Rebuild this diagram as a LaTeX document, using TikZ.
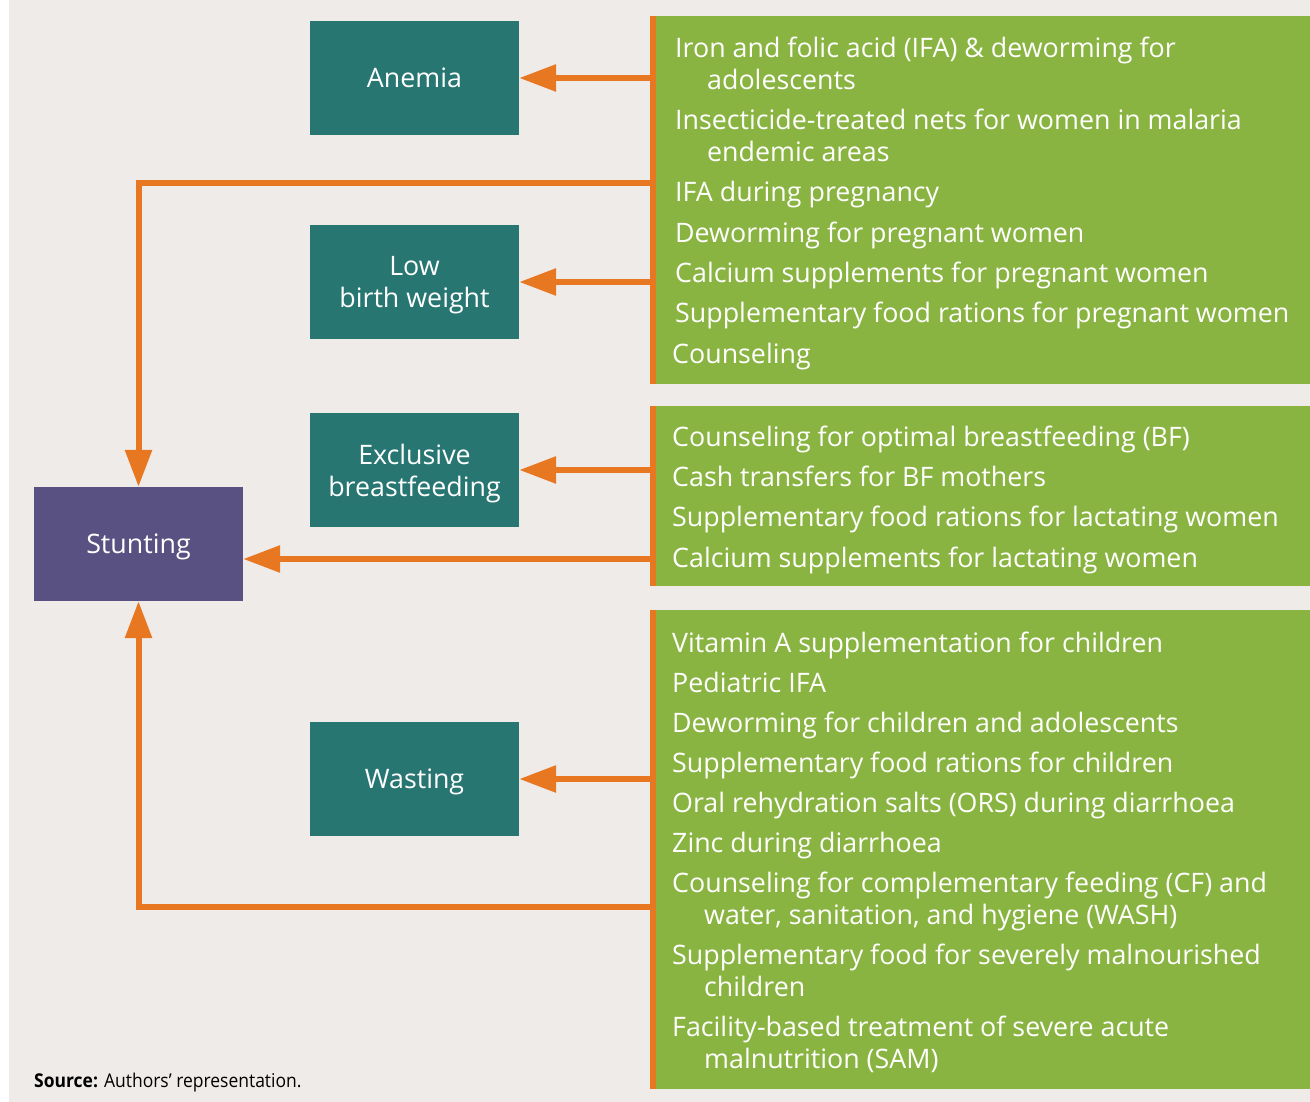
\documentclass[tikz,border=0pt]{standalone}
\usepackage{fontspec}
\setmainfont{Open Sans}
\newfontfamily\srcfont[FakeStretch=0.92]{Open Sans}
\usetikzlibrary{arrows.meta}
\definecolor{bgc}{HTML}{EFEBE8}
\definecolor{grn}{HTML}{8AB441}
\definecolor{tealc}{HTML}{287672}
\definecolor{purp}{HTML}{585182}
\definecolor{orng}{HTML}{E87722}
\begin{document}
\begin{tikzpicture}[x=1pt,y=-1pt,
  every node/.style={font=\fontsize{26.8}{32}\selectfont},
  outbox/.style={fill=tealc, text=white, minimum width=209pt, minimum height=114pt, inner sep=0pt, align=center, text depth=0pt},
  stuntbox/.style={fill=purp, text=white, minimum width=209pt, minimum height=114pt, inner sep=0pt, text depth=0pt},
  greenbox/.style={fill=grn, anchor=north west, inner sep=0pt,
     path picture={\fill[orng] (path picture bounding box.north west) rectangle ([xshift=6pt]path picture bounding box.south west);}},
  itemtext/.style={anchor=base west, text=white, inner sep=0pt},
  arr/.style={draw=orng, line width=6pt, -{Triangle[length=37pt,width=26pt]}},
  conn/.style={draw=orng, line width=6pt}
]
\useasboundingbox (0,0) rectangle (1310,1102);
\fill[white] (0,0) rectangle (1310,1102);
\fill[bgc] (9,0) rectangle (1310,1102);

% green boxes
\node[greenbox, minimum width=660pt, minimum height=368pt] (g1) at (650,16) {};
\node[greenbox, minimum width=660pt, minimum height=180pt] (g2) at (650,406) {};
\node[greenbox, minimum width=660pt, minimum height=479pt] (g3) at (650,610) {};

% outcome boxes
\node[outbox] (anemia) at (414.5,78) {Anemia};
\node[outbox] (lbw) at (414.5,282) {Low\\birth weight};
\node[outbox] (ebf) at (414.5,470) {Exclusive\\breastfeeding};
\node[outbox] (wasting) at (414.5,779) {Wasting};
\node[stuntbox] (stunting) at (138.5,544) {Stunting};

% box 1 items
\node[itemtext] (t1) at (675,58) {Iron and folic acid (IFA) \& deworming for};
\node[itemtext] (t1b) at (707,90) {adolescents};
\node[itemtext] (t2) at (675,130) {Insecticide-treated nets for women in malaria};
\node[itemtext] (t2b) at (707,162) {endemic areas};
\node[itemtext] (t3) at (675,202) {IFA during pregnancy};
\node[itemtext] (t4) at (675,243) {Deworming for pregnant women};
\node[itemtext] (t5) at (675,283) {Calcium supplements for pregnant women};
\node[itemtext] (t6) at (675,323) {Supplementary food rations for pregnant women};
\node[itemtext] (t7) at (672,363) {Counseling};

% box 2 items
\node[itemtext] (u1) at (672,446) {Counseling for optimal breastfeeding (BF)};
\node[itemtext] (u2) at (672,486) {Cash transfers for BF mothers};
\node[itemtext] (u3) at (672,526) {Supplementary food rations for lactating women};
\node[itemtext] (u4) at (672,567) {Calcium supplements for lactating women};

% box 3 items
\node[itemtext] (v1) at (672,652) {Vitamin A supplementation for children};
\node[itemtext] (v2) at (672,692) {Pediatric IFA};
\node[itemtext] (v3) at (672,732) {Deworming for children and adolescents};
\node[itemtext] (v4) at (672,772) {Supplementary food rations for children};
\node[itemtext] (v5) at (672,812) {Oral rehydration salts (ORS) during diarrhoea};
\node[itemtext] (v6) at (672,852) {Zinc during diarrhoea};
\node[itemtext] (v7) at (672,892) {Counseling for complementary feeding (CF) and};
\node[itemtext] (v7b) at (704,924) {water, sanitation, and hygiene (WASH)};
\node[itemtext] (v8) at (672,964) {Supplementary food for severely malnourished};
\node[itemtext] (v8b) at (704,996) {children};
\node[itemtext] (v9) at (672,1036) {Facility-based treatment of severe acute};
\node[itemtext] (v9b) at (704,1068) {malnutrition (SAM)};

% source
\node[anchor=base west, inner sep=0pt, font=\srcfont\fontsize{19}{23}\selectfont, text=black] (src) at (34,1087) {\textbf{Source:} Authors’ representation.};

% connectors
\coordinate (c1) at (653,183);
\coordinate (c2) at (653,559);
\coordinate (c3) at (653,907);
\draw[arr] (g1.west |- anemia.east) -- (anemia.east);
\draw[arr] (g1.west |- lbw.east) -- (lbw.east);
\draw[arr] (g2.west |- ebf.east) -- (ebf.east);
\draw[arr] (g3.west |- wasting.east) -- (wasting.east);
\draw[arr] (c1) -| (stunting.north);
\draw[arr] (c2) -- (stunting.east |- c2);
\draw[arr] (c3) -| (stunting.south);
\end{tikzpicture}
\end{document}
